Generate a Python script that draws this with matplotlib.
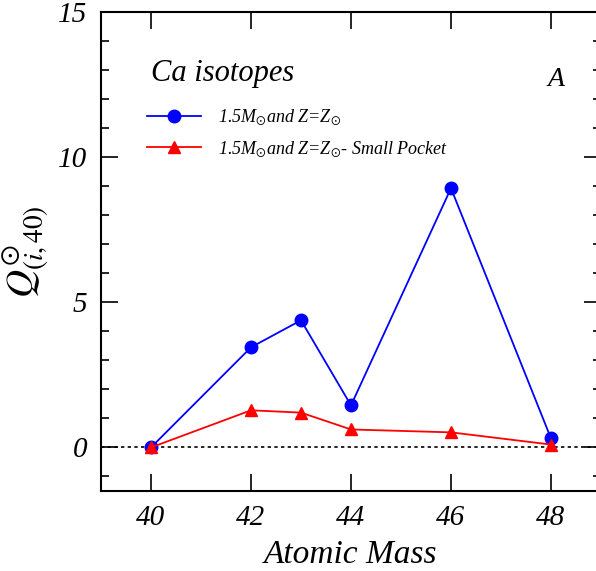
import matplotlib
matplotlib.use("Agg")
import matplotlib.pyplot as plt
from matplotlib.ticker import MultipleLocator

plt.rcParams['font.family'] = 'Liberation Serif'
plt.rcParams['mathtext.fontset'] = 'stix'

# data
mass = [40, 42, 43, 44, 46, 48]
q_full = [0.0, 3.45, 4.38, 1.45, 8.93, 0.31]
q_small = [0.0, 1.28, 1.2, 0.62, 0.52, 0.1]

fig = plt.figure(figsize=(5.96, 5.71), dpi=100)
ax = fig.add_axes([101 / 596, 80 / 571, 500 / 596, 479 / 571])

ax.axhline(0, color='black', ls=(0, (2, 2)), lw=1.2, zorder=1)
ax.plot(mass, q_full, color='blue', marker='o', ms=9, lw=1.3,
        label=r'1.5M$_{\odot}$and Z=Z$_{\odot}$')
ax.plot(mass, q_small, color='red', marker='^', ms=9, lw=1.3,
        label=r'1.5M$_{\odot}$and Z=Z$_{\odot}$- Small Pocket')

ax.set_xlim(39, 49)
ax.set_ylim(-1.5, 15)
ax.xaxis.set_major_locator(MultipleLocator(2))
ax.yaxis.set_major_locator(MultipleLocator(5))
ax.yaxis.set_minor_locator(MultipleLocator(1))
ax.tick_params(which='both', direction='in', top=True, right=True,
               labelsize=21, width=1.2)
ax.tick_params(which='major', length=12, pad=10)
ax.tick_params(which='minor', length=6)
for lab in ax.get_xticklabels() + ax.get_yticklabels():
    lab.set_fontstyle('italic')
for s in ax.spines.values():
    s.set_linewidth(1.5)

ax.set_xlabel('Atomic Mass', fontsize=24, style='italic', labelpad=6)
ax.set_ylabel(r'$Q^{\odot}_{(i,\mathit{40})}$', fontsize=28, labelpad=4)

ax.text(0.1, 0.855, 'Ca isotopes', transform=ax.transAxes, fontsize=22,
        style='italic')
ax.text(0.893, 0.845, 'A', transform=ax.transAxes, fontsize=20,
        style='italic')

leg = ax.legend(loc='upper left', bbox_to_anchor=(0.06, 0.835), frameon=False,
                fontsize=13, handlelength=3.0, handletextpad=0.9,
                labelspacing=0.65)
for t in leg.get_texts():
    t.set_fontstyle('italic')

fig.savefig('out.png', dpi=100)
